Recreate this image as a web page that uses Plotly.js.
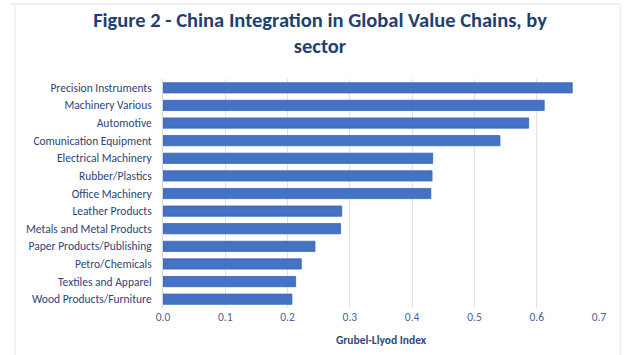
<!DOCTYPE html>
<html>
<head>
<meta charset="utf-8">
<script src="https://cdn.plot.ly/plotly-3.0.1.min.js"></script>
<style>html,body{margin:0;padding:0;background:#fff;}#chart{width:640px;height:355px;}</style>
</head>
<body>
<div id="chart"></div>
<script>
const sectors = [
  "Precision Instruments",
  "Machinery Various",
  "Automotive",
  "Comunication Equipment",
  "Electrical Machinery",
  "Rubber/Plastics",
  "Office Machinery",
  "Leather Products",
  "Metals and Metal Products",
  "Paper Products/Publishing",
  "Petro/Chemicals",
  "Textiles and Apparel",
  "Wood Products/Furniture"
];
const gliValues = [0.657, 0.612, 0.587, 0.541, 0.433, 0.432, 0.430, 0.287, 0.285, 0.244, 0.222, 0.213, 0.207];
const xTickVals = [0, 0.1, 0.2, 0.3, 0.4, 0.5, 0.6, 0.7];
const xTickText = ["0.0", "0.1", "0.2", "0.3", "0.4", "0.5", "0.6", "0.7"];

const fontFam = "Carlito, Lato, 'Open Sans', sans-serif";

const trace = {
  type: 'bar',
  orientation: 'h',
  x: gliValues,
  y: sectors,
  marker: {color: '#4472C4', line: {color: '#3A65B3', width: 0.8}},
  hoverinfo: 'x+y'
};

const layout = {
  width: 640, height: 355,
  margin: {l: 163, r: 40.5, t: 79, b: 47},
  paper_bgcolor: '#ffffff',
  plot_bgcolor: '#ffffff',
  bargap: 0.42,
  showlegend: false,
  title: {
    text: '<b>Figure 2 - China Integration in Global Value Chains, by<br>sector</b>',
    font: {family: fontFam, size: 20.5, color: '#1F3F73'},
    x: 0.5, xanchor: 'center', y: 0.925, yanchor: 'top'
  },
  xaxis: {
    range: [0, 0.7],
    tickvals: xTickVals,
    ticktext: xTickText,
    showgrid: true,
    gridcolor: '#DCE3EE',
    gridwidth: 1,
    zeroline: false,
    showline: false,
    ticks: '',
    tickfont: {family: fontFam, size: 11.5, color: '#4A64A0'},
    title: {text: '<b>Grubel-Llyod Index</b>', font: {family: fontFam, size: 11.5, color: '#2F4A7E'}, standoff: 13}
  },
  yaxis: {
    autorange: 'reversed',
    showgrid: false,
    zeroline: false,
    showline: true,
    linecolor: '#D4D9E2',
    linewidth: 1,
    ticks: '',
    ticklabelstandoff: 8,
    tickfont: {family: fontFam, size: 11.5, color: '#2E4578'}
  },
  shapes: [
    {type: 'line', layer: 'below', xref: 'paper', yref: 'paper', x0: -0.35, x1: 1.05, y0: 1.328, y1: 1.328, line: {color: '#E6E9EF', width: 1.5}},
    {type: 'line', layer: 'below', xref: 'paper', yref: 'paper', x0: -0.339, x1: -0.339, y0: -0.21, y1: 1.33, line: {color: '#F0F2F5', width: 2}},
    {type: 'line', layer: 'below', xref: 'paper', yref: 'paper', x0: 1.049, x1: 1.049, y0: -0.21, y1: 1.33, line: {color: '#EEF0F4', width: 2}}
  ]
};

Plotly.newPlot('chart', [trace], layout, {displayModeBar: false, staticPlot: true});
</script>
</body>
</html>
